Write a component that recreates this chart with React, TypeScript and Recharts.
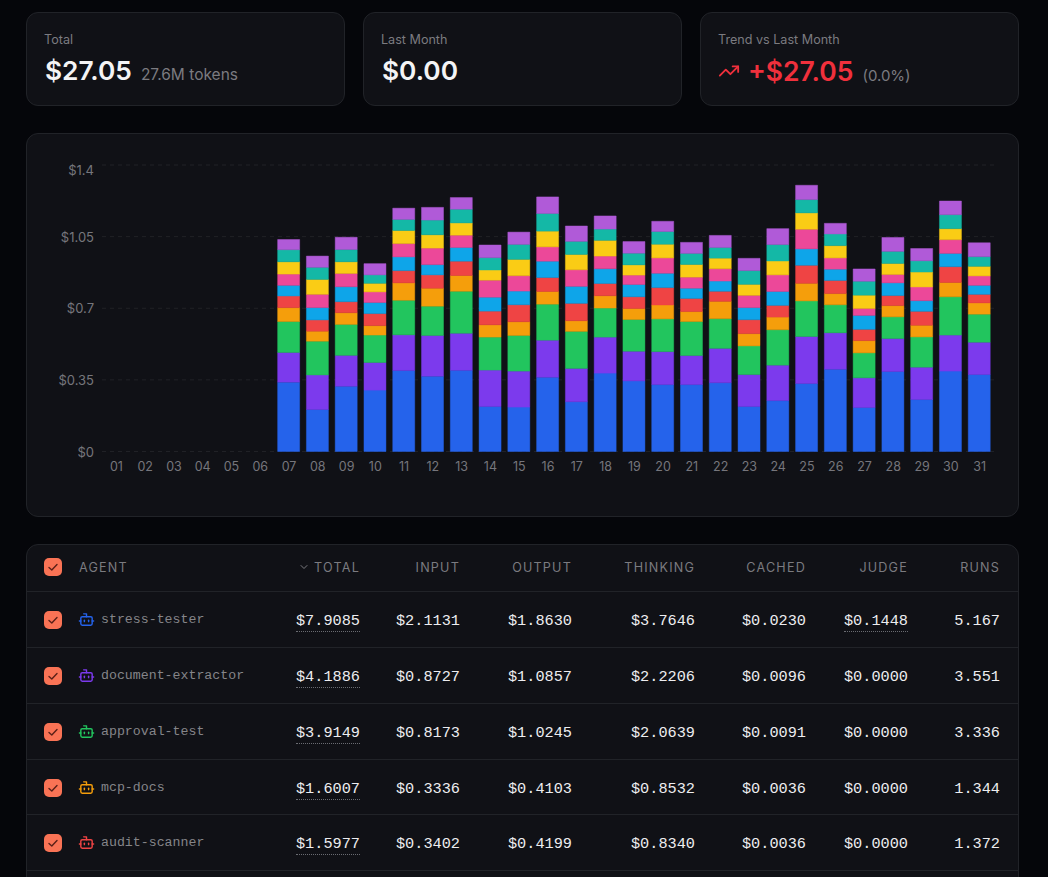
import { BarChart, Bar, XAxis, YAxis, CartesianGrid } from "recharts"

const days = ["01","02","03","04","05","06","07","08","09","10","11","12","13","14","15","16","17","18","19","20","21","22","23","24","25","26","27","28","29","30","31"]

const none = [0, 0, 0, 0, 0, 0]
const blue = [...none, 0.339,0.205,0.319,0.300,0.396,0.368,0.397,0.220,0.217,0.363,0.243,0.383,0.345,0.327,0.327,0.336,0.220,0.249,0.332,0.402,0.215,0.391,0.254,0.393,0.376]
const violet = [...none, 0.145,0.169,0.151,0.135,0.174,0.199,0.181,0.178,0.176,0.181,0.163,0.176,0.145,0.161,0.142,0.168,0.156,0.173,0.230,0.178,0.145,0.161,0.158,0.176,0.158]
const green = [...none, 0.151,0.165,0.151,0.134,0.169,0.143,0.205,0.161,0.174,0.176,0.181,0.142,0.155,0.160,0.166,0.145,0.140,0.173,0.174,0.137,0.122,0.106,0.148,0.187,0.137]
const amber = [...none, 0.068,0.049,0.057,0.046,0.085,0.088,0.077,0.060,0.067,0.062,0.052,0.060,0.054,0.068,0.049,0.085,0.060,0.062,0.086,0.055,0.060,0.055,0.057,0.070,0.055]
const red = [...none, 0.057,0.055,0.054,0.059,0.060,0.065,0.070,0.067,0.083,0.068,0.085,0.060,0.057,0.085,0.064,0.049,0.068,0.057,0.088,0.064,0.055,0.049,0.068,0.077,0.042]
const sky = [...none, 0.052,0.060,0.073,0.054,0.067,0.050,0.067,0.068,0.067,0.080,0.083,0.072,0.060,0.070,0.050,0.050,0.059,0.068,0.080,0.055,0.068,0.062,0.052,0.065,0.044]
const pink = [...none, 0.055,0.065,0.065,0.052,0.065,0.081,0.060,0.083,0.075,0.070,0.081,0.062,0.046,0.075,0.054,0.060,0.060,0.081,0.096,0.055,0.034,0.041,0.067,0.067,0.046]
const yellow = [...none, 0.060,0.073,0.057,0.042,0.064,0.065,0.060,0.050,0.080,0.077,0.075,0.077,0.050,0.067,0.062,0.052,0.054,0.068,0.080,0.060,0.065,0.054,0.073,0.054,0.047]
const teal = [...none, 0.059,0.059,0.060,0.041,0.054,0.072,0.067,0.060,0.073,0.086,0.064,0.055,0.057,0.062,0.054,0.052,0.067,0.080,0.065,0.057,0.068,0.059,0.055,0.068,0.047]
const purple = [...none, 0.050,0.055,0.060,0.055,0.055,0.062,0.057,0.062,0.060,0.081,0.075,0.064,0.057,0.050,0.054,0.059,0.060,0.078,0.070,0.052,0.060,0.068,0.060,0.067,0.068]

const series = [
  { key: "stress-tester", color: "#2563eb", values: blue },
  { key: "document-extractor", color: "#7c3aed", values: violet },
  { key: "approval-test", color: "#22c55e", values: green },
  { key: "mcp-docs", color: "#f59e0b", values: amber },
  { key: "audit-scanner", color: "#ef4444", values: red },
  { key: "s6", color: "#0ea5e9", values: sky },
  { key: "s7", color: "#ec4899", values: pink },
  { key: "s8", color: "#facc15", values: yellow },
  { key: "s9", color: "#14b8a6", values: teal },
  { key: "s10", color: "#b05ad8", values: purple },
]

const yTicks = [0, 0.35, 0.7, 1.05, 1.4]

const chartData = days.map((day, i) => {
  const row: Record<string, string | number> = { day }
  series.forEach((s) => {
    row[s.key] = s.values[i]
  })
  return row
})

const columns = ["TOTAL", "INPUT", "OUTPUT", "THINKING", "CACHED", "JUDGE", "RUNS"]
const columnRight = [360, 460, 572, 695, 806, 908, 1000]
const rowTops = [592, 648, 704, 760, 815]
const agents = ["stress-tester", "document-extractor", "approval-test", "mcp-docs", "audit-scanner"]
const agentColors = ["#2563eb", "#7c3aed", "#22c55e", "#f59e0b", "#ef4444"]
const agentRows = [
  ["$7.9085", "$2.1131", "$1.8630", "$3.7646", "$0.0230", "$0.1448", "5.167"],
  ["$4.1886", "$0.8727", "$1.0857", "$2.2206", "$0.0096", "$0.0000", "3.551"],
  ["$3.9149", "$0.8173", "$1.0245", "$2.0639", "$0.0091", "$0.0000", "3.336"],
  ["$1.6007", "$0.3336", "$0.4103", "$0.8532", "$0.0036", "$0.0000", "1.344"],
  ["$1.5977", "$0.3402", "$0.4199", "$0.8340", "$0.0036", "$0.0000", "1.372"],
]
// only these cells carry the dotted underline besides the total column
const judgeUnderlinedRows = [0]

const sans = "Inter, sans-serif"
const mono = "'Liberation Mono', monospace"
const muted = "#7b7b80"

const card: React.CSSProperties = {
  position: "absolute",
  boxSizing: "border-box",
  background: "#101116",
  border: "1px solid #212328",
  borderRadius: 12,
}

function YTick({ x, y, payload }: any) {
  // the top label gets pushed down so it stays inside the plot
  const shift = payload.value === 1.4 ? 5 : 0
  return (
    <text x={x} y={y + shift} dy={5} textAnchor="end" fill="#76767c" fontSize={13} fontFamily={sans}>
      {`$${payload.value}`}
    </text>
  )
}

function Check({ top }: { top: number }) {
  return (
    <div style={{ position: "absolute", left: 44, top, width: 18, height: 18, borderRadius: 5, background: "#f97355" }}>
      <svg width="18" height="18" viewBox="0 0 18 18" fill="none">
        <path d="M5 9.5 L7.8 12 L13 6.5" stroke="#5a2018" strokeWidth="1.4" strokeLinecap="round" strokeLinejoin="round" />
      </svg>
    </div>
  )
}

function Bot({ top, color }: { top: number; color: string }) {
  return (
    <svg style={{ position: "absolute", left: 78, top }} width="17" height="17" viewBox="0 0 24 24" fill="none" stroke={color} strokeWidth="2" strokeLinecap="round" strokeLinejoin="round">
      <path d="M12 8V4H8" />
      <rect width="16" height="12" x="4" y="8" rx="2" />
      <path d="M2 14h2" />
      <path d="M20 14h2" />
      <path d="M15 13v2" />
      <path d="M9 13v2" />
    </svg>
  )
}

function Stat({ left, label, children }: { left: number; label: string; children: React.ReactNode }) {
  return (
    <div style={{ ...card, left, top: 12, width: 319, height: 94 }}>
      <div style={{ position: "absolute", left: 17, top: 19, fontSize: 12.6, color: muted, fontFamily: sans }}>{label}</div>
      <div style={{ position: "absolute", left: 18, top: 42, display: "flex", alignItems: "baseline", fontFamily: sans, whiteSpace: "nowrap" }}>{children}</div>
    </div>
  )
}

export default function App() {
  return (
    <div style={{ position: "fixed", left: 0, top: 0, width: 1048, height: 877, overflow: "hidden", background: "#05060a" }}>
      <Stat left={26} label="Total">
        <span style={{ fontSize: 26.3, fontWeight: 600, color: "#f4f4f5" }}>$27.05</span>
        <span style={{ fontSize: 15.5, color: muted, marginLeft: 9 }}>27.6M tokens</span>
      </Stat>
      <Stat left={363} label="Last Month">
        <span style={{ fontSize: 26.3, fontWeight: 600, color: "#f4f4f5" }}>$0.00</span>
      </Stat>
      <Stat left={700} label="Trend vs Last Month">
        <svg style={{ alignSelf: "center", marginLeft: -1, marginRight: 8 }} width="22" height="22" viewBox="0 0 24 24" fill="none" stroke="#f0303c" strokeWidth="2" strokeLinecap="round" strokeLinejoin="round">
          <polyline points="22 7 13.5 15.5 8.5 10.5 2 17" />
          <polyline points="16 7 22 7 22 13" />
        </svg>
        <span style={{ fontSize: 26.5, fontWeight: 600, color: "#f0303c" }}>+$27.05</span>
        <span style={{ fontSize: 15, color: muted, marginLeft: 9 }}>(0.0%)</span>
      </Stat>

      <div style={{ ...card, left: 26, top: 133, width: 993, height: 384 }} />
      <div style={{ position: "absolute", left: 26, top: 133 }}>
        <BarChart width={993} height={384} data={chartData} margin={{ top: 32, right: 25, bottom: 35.5, left: 0 }}>
          <CartesianGrid vertical={false} stroke="rgba(255,255,255,0.07)" strokeDasharray="4 4" />
          <XAxis dataKey="day" axisLine={false} tickLine={false} interval={0} height={30} tickMargin={5} tick={{ fill: "#76767c", fontSize: 12.5, fontFamily: sans }} />
          <YAxis width={76} domain={[0, 1.4]} ticks={yTicks} axisLine={false} tickLine={false} tick={YTick} />
          {series.map((s) => (
            <Bar key={s.key} dataKey={s.key} stackId="a" fill={s.color} stroke={s.color} strokeOpacity={0.45} barSize={22} isAnimationActive={false} />
          ))}
        </BarChart>
      </div>

      <div style={{ ...card, left: 26, top: 544, width: 993, height: 400 }} />
      <Check top={558} />
      <div style={{ position: "absolute", left: 79, top: 560, fontSize: 12.6, letterSpacing: 1.2, color: muted, fontFamily: sans }}>AGENT</div>
      <svg style={{ position: "absolute", left: 298, top: 561 }} width="12" height="12" viewBox="0 0 24 24" fill="none" stroke={muted} strokeWidth="2" strokeLinecap="round" strokeLinejoin="round">
        <path d="m6 9 6 6 6-6" />
      </svg>
      {columns.map((c, i) => (
        <div key={c} style={{ position: "absolute", right: 1048 - columnRight[i], top: 560, fontSize: 12.6, letterSpacing: 1.2, color: muted, fontFamily: sans }}>
          {c}
        </div>
      ))}

      {rowTops.map((top, r) => (
        <div key={agents[r]}>
          <div style={{ position: "absolute", left: 27, width: 991, top: top - 1, height: 1, background: "#212328" }} />
          <Check top={top + 19} />
          <Bot top={top + 19} color={agentColors[r]} />
          <div style={{ position: "absolute", left: 101, top: top + 20, fontSize: 13.25, lineHeight: "16px", color: "#858589", fontFamily: mono }}>{agents[r]}</div>
          {agentRows[r].map((v, i) => {
            const dotted = i === 0 || (i === 5 && judgeUnderlinedRows.includes(r))
            return (
              <div
                key={columns[i]}
                style={{
                  position: "absolute",
                  right: 1048 - columnRight[i],
                  top: top + 21,
                  fontSize: 15.25,
                  lineHeight: "17px",
                  paddingBottom: 1,
                  color: "#ededf0",
                  fontFamily: mono,
                  borderBottom: dotted ? "1px dotted #6a6c72" : "none",
                }}
              >
                {v}
              </div>
            )
          })}
        </div>
      ))}
      <div style={{ position: "absolute", left: 27, width: 991, top: 870, height: 1, background: "#212328" }} />
    </div>
  )
}
